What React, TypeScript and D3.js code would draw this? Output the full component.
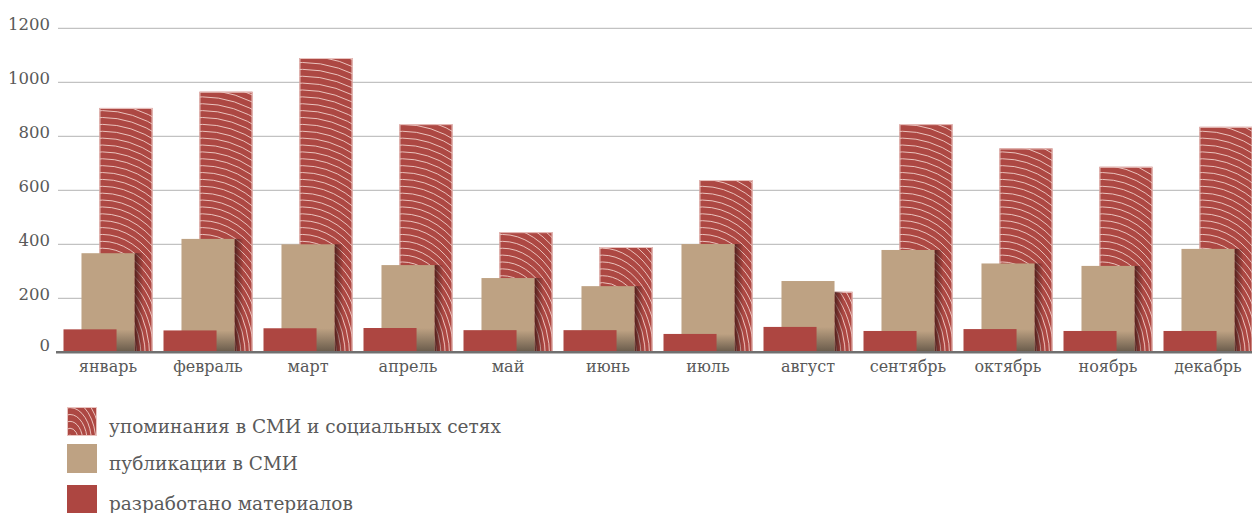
import React from 'react';
import * as d3 from 'd3';

const months = ['январь', 'февраль', 'март', 'апрель', 'май', 'июнь', 'июль', 'август', 'сентябрь', 'октябрь', 'ноябрь', 'декабрь'];
const mentions = [905, 965, 1090, 845, 445, 390, 638, 224, 845, 755, 687, 835];
const publications = [367, 420, 400, 323, 275, 245, 401, 264, 379, 329, 320, 383];
const materials = [85, 81, 89, 90, 82, 82, 68, 94, 79, 86, 79, 79];
const yTicks = [0, 200, 400, 600, 800, 1000, 1200];
const legendLabels = ['упоминания в СМИ и социальных сетях', 'публикации в СМИ', 'разработано материалов'];

const W = 1252;
const H = 513;
const FONT = '"DejaVu Serif", serif';
const RED = '#ad4641';
const PATTERN_RED = '#ad4843';
const TAN = '#bea283';

const x = d3.scaleBand<string>().domain(months).range([58, 1258]).paddingInner(0.11).paddingOuter(0.055);
const y = d3.scaleLinear().domain([0, 1200]).range([352.3, 28.3]);
const barW = x.bandwidth() * 0.596;
const sub = (x.bandwidth() - barW) / 2;

// white concentric arcs clipped to a rect
function Arcs({ id, bx, by, bw, bh }: { id: string; bx: number; by: number; bw: number; bh: number }) {
  const cx = bx + 3;
  const cy = by + bh + 6;
  const ratio = 1.6;
  const step = 4.3;
  const maxR = Math.sqrt((bw) ** 2 + ((bh + 6) / ratio) ** 2) + step;
  const radii = d3.range(step, maxR, step);
  return (
    <g>
      <clipPath id={id}>
        <rect x={bx} y={by} width={bw} height={bh} />
      </clipPath>
      <rect x={bx} y={by} width={bw} height={bh} fill={PATTERN_RED} />
      <g clipPath={`url(#${id})`}>
        {radii.map((r, i) => (
          <ellipse key={i} cx={cx} cy={cy} rx={r} ry={r * ratio} fill="none" stroke="#f4d8d2" strokeOpacity={0.85} strokeWidth={1} />
        ))}
      </g>
      <rect x={bx + 0.5} y={by + 0.5} width={bw - 1} height={bh - 1} fill="none" stroke="#e9c3bf" strokeWidth={1} />
    </g>
  );
}

export default function App() {
  const base = y(0);
  return (
    <svg width={W} height={H} style={{ position: 'absolute', left: 0, top: 0, display: 'block' }} fontFamily={FONT}>
      <defs>
        <linearGradient id="sideShadow" x1="0" x2="1" y1="0" y2="0">
          <stop offset="0" stopColor="#3a1614" stopOpacity={0.8} />
          <stop offset="1" stopColor="#3a1614" stopOpacity={0} />
        </linearGradient>
        <linearGradient id="bottomShadow" x1="0" x2="0" y1="0" y2="1">
          <stop offset="0" stopColor="#5e5244" stopOpacity={0} />
          <stop offset="1" stopColor="#5e5244" stopOpacity={0.9} />
        </linearGradient>
      </defs>

      {/* grid */}
      {yTicks.filter(t => t > 0).map(t => (
        <line key={t} x1={58} x2={W} y1={y(t)} y2={y(t)} stroke="#b3b3b3" strokeWidth={1} />
      ))}
      {yTicks.map(t => (
        <text key={t} x={50} y={y(t) + (t === 0 ? -1.5 : 1.5)} textAnchor="end" fontSize={16.5} fill="#595959">{t}</text>
      ))}

      {/* bars */}
      {months.map((m, i) => {
        const x0 = x(m) || 0;
        const mx = x0 + sub * 2;
        const px = x0 + sub;
        const mTop = y(mentions[i]);
        const pTop = y(publications[i]);
        const sTop = y(materials[i]);
        return (
          <g key={m}>
            <Arcs id={`arc${i}`} bx={mx} by={mTop} bw={barW} bh={base - mTop} />
            <rect x={px + barW} y={Math.max(pTop, mTop)} width={9} height={base - Math.max(pTop, mTop)} fill="url(#sideShadow)" />
            <rect x={px} y={pTop} width={barW} height={base - pTop} fill={TAN} />
            <rect x={px} y={sTop} width={barW} height={base - sTop} fill="url(#bottomShadow)" />
            <rect x={x0} y={sTop} width={barW} height={base - sTop} fill={RED} />
          </g>
        );
      })}

      {/* axis */}
      <line x1={56} x2={W} y1={base} y2={base} stroke="#707070" strokeWidth={2.6} />
      {months.map(m => (
        <text key={m} x={(x(m) || 0) + x.bandwidth() / 2} y={372} textAnchor="middle" fontSize={16} fill="#595959">{m}</text>
      ))}

      {/* legend */}
      {legendLabels.map((label, i) => {
        const sy = [407, 444, 485][i];
        const ty = [433, 470, 510][i];
        return (
          <g key={label}>
            {i === 0 ? (
              <Arcs id="legArc" bx={67} by={sy} bw={30} bh={29} />
            ) : (
              <rect x={67} y={sy} width={30} height={29} fill={i === 1 ? TAN : RED} />
            )}
            <text x={109} y={ty} fontSize={18.5} fill="#5a5a5a">{label}</text>
          </g>
        );
      })}
    </svg>
  );
}
